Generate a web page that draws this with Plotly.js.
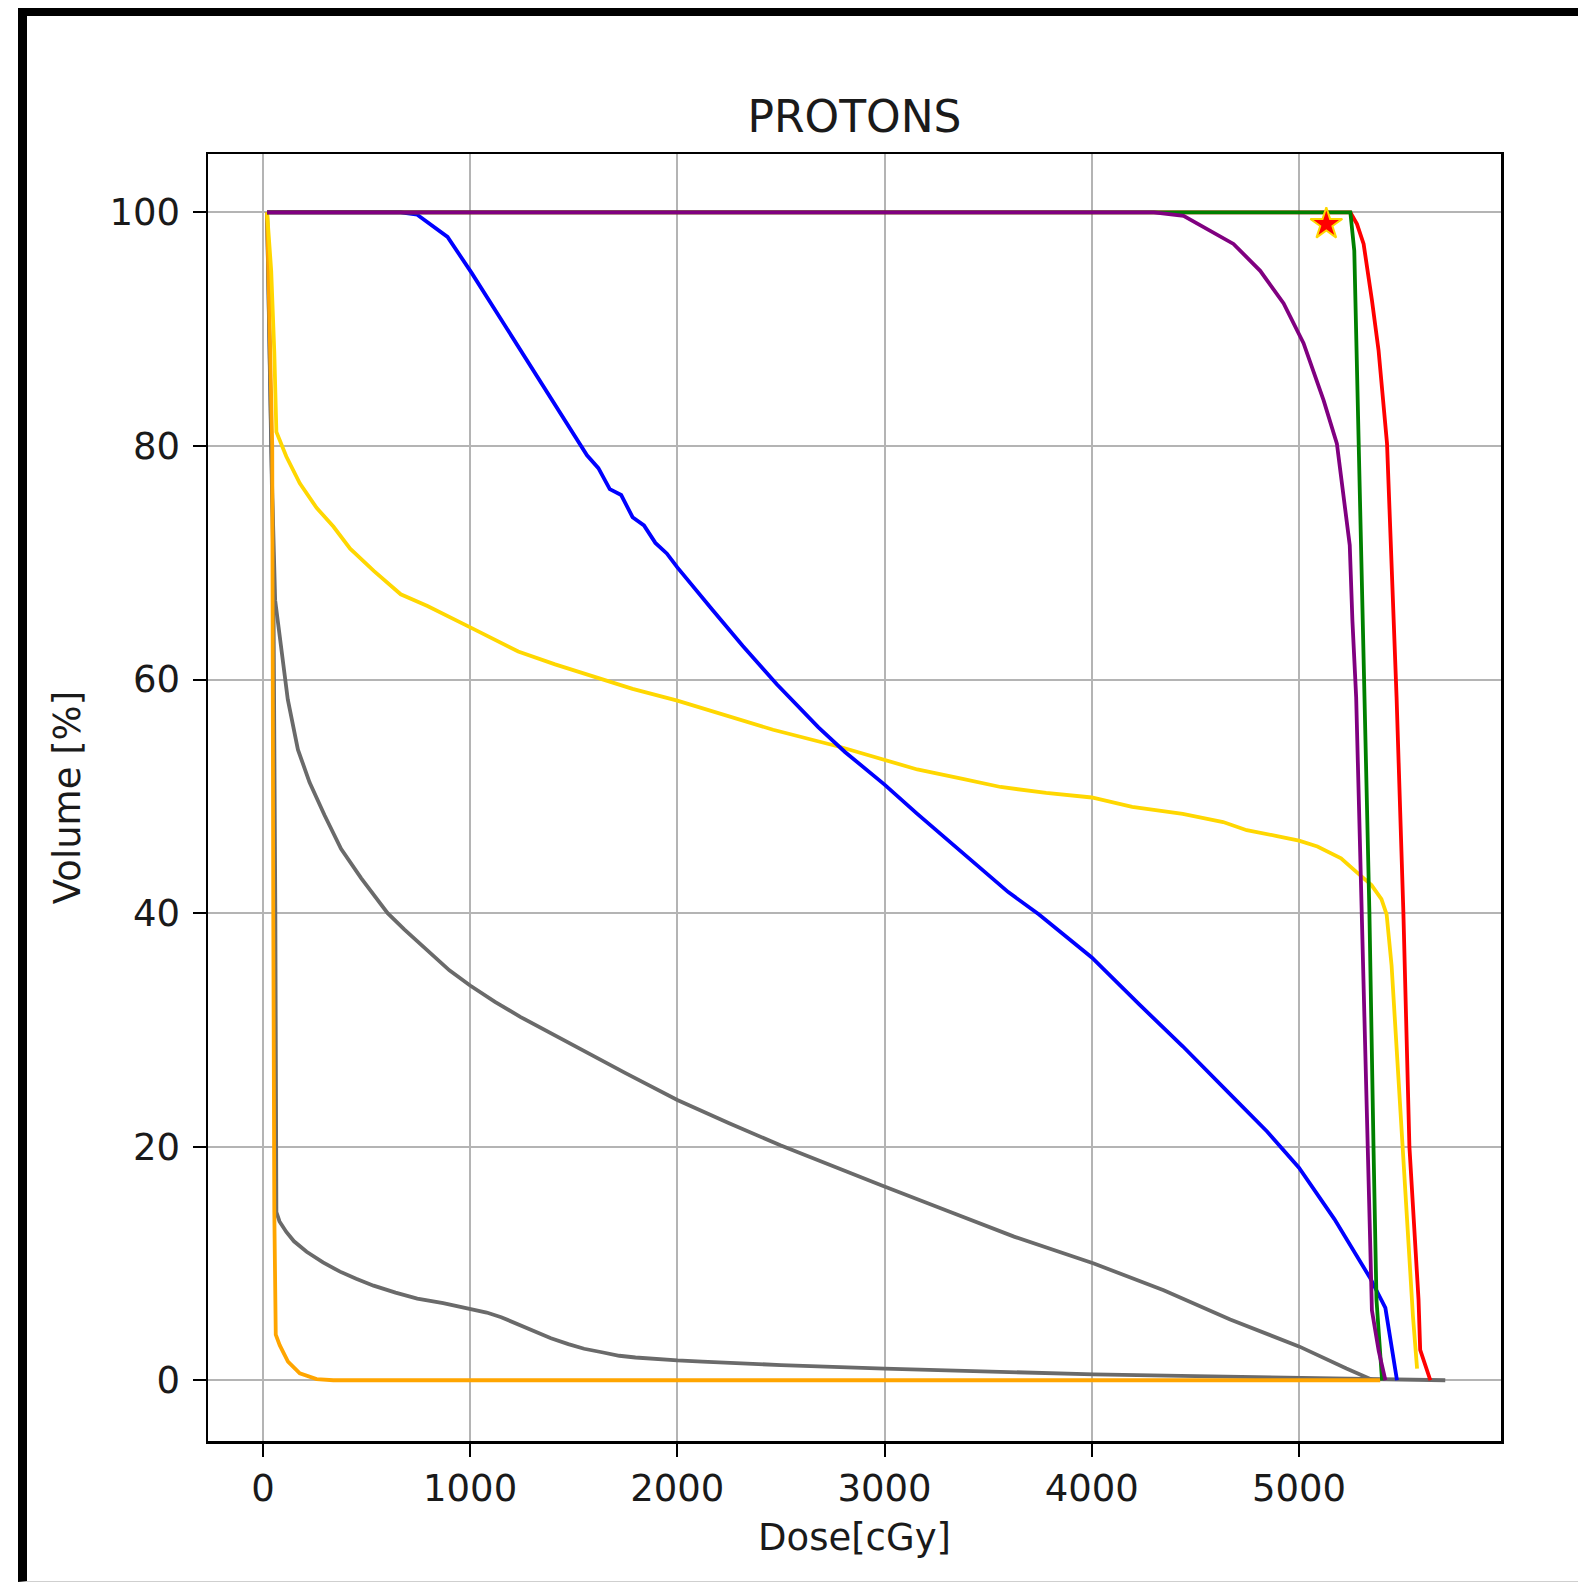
<!DOCTYPE html>
<html>
<head>
<meta charset="utf-8">
<script src="https://cdn.plot.ly/plotly-3.0.1.min.js"></script>
<style>
  html, body { margin: 0; padding: 0; background: #ffffff; overflow: hidden; }
  #wrap { position: relative; width: 1578px; height: 1585px; }
  #chart { position: absolute; left: 0; top: 0; width: 1578px; height: 1585px; }
  #frame { position: absolute; left: 18px; top: 8px; width: 1580px; height: 1574px;
           border-left: 9px solid #000; border-top: 8px solid #000; border-bottom: 1px solid #cfcfcf;
           box-sizing: border-box; pointer-events: none; }
</style>
</head>
<body>
<div id="wrap">
  <div id="chart"></div>
  <div id="frame"></div>
</div>
<script>
// ---- data (dose in cGy, volume in %) ----
const grayLowDose = [20, 50, 60, 65, 80, 113, 150, 211, 290, 372, 450, 534, 640, 745, 870, 1007, 1080, 1150, 1230, 1312, 1390, 1474, 1550, 1636, 1720, 1798, 1900, 2000, 2121, 2500, 3000, 3500, 4010, 4500, 5000, 5400, 5706];
const grayLowVol  = [100, 70, 40, 14.4, 13.6, 12.7, 11.9, 11.0, 10.1, 9.3, 8.7, 8.1, 7.5, 7.0, 6.6, 6.1, 5.8, 5.4, 4.8, 4.2, 3.6, 3.1, 2.7, 2.4, 2.1, 1.95, 1.8, 1.7, 1.6, 1.3, 1.0, 0.75, 0.5, 0.35, 0.2, 0.1, 0];

const grayHighDose = [20, 35, 45, 59, 88, 120, 169, 225, 297, 377, 474, 540, 602, 682, 811, 900, 1000, 1120, 1244, 1370, 1500, 1750, 2000, 2250, 2500, 2750, 2984, 3305, 3625, 4010, 4347, 4668, 5000, 5229, 5358];
const grayHighVol  = [100, 85, 76, 66.8, 62.6, 58.3, 54.0, 51.2, 48.4, 45.5, 43.0, 41.4, 40.0, 38.6, 36.5, 35.1, 33.8, 32.4, 31.1, 29.9, 28.7, 26.3, 24.0, 22.0, 20.1, 18.3, 16.7, 14.5, 12.3, 10.0, 7.7, 5.2, 2.9, 1.0, 0];

const orangeDose = [20, 45, 50, 52, 55, 62, 81, 121, 178, 259, 340, 5392];
const orangeVol  = [100, 80, 40, 20, 14.4, 3.9, 3.0, 1.6, 0.6, 0.1, 0, 0];

const yellowDose = [20, 40, 55, 65, 113, 178, 259, 340, 421, 535, 665, 794, 1008, 1232, 1410, 1582, 1784, 2000, 2242, 2462, 2791, 3000, 3158, 3377, 3560, 3780, 4000, 4195, 4439, 4634, 4748, 4894, 5000, 5089, 5203, 5285, 5350, 5398, 5423, 5447, 5480, 5505, 5530, 5550, 5570];
const yellowVol  = [100, 95, 88, 81.2, 79.1, 76.8, 74.7, 73.1, 71.2, 69.3, 67.3, 66.3, 64.4, 62.4, 61.3, 60.3, 59.2, 58.2, 56.9, 55.7, 54.2, 53.1, 52.3, 51.5, 50.8, 50.3, 49.9, 49.1, 48.5, 47.8, 47.1, 46.6, 46.2, 45.7, 44.7, 43.4, 42.4, 41.2, 39.9, 35.5, 25.6, 18.5, 10.5, 5.5, 1.0];

const blueDose = [20, 665, 745, 891, 1008, 1151, 1313, 1443, 1564, 1619, 1674, 1729, 1784, 1839, 1894, 1949, 2000, 2168, 2315, 2480, 2681, 2809, 3000, 3158, 3359, 3597, 3744, 4000, 4228, 4439, 4684, 4846, 5000, 5171, 5342, 5417, 5473];
const blueVol  = [100, 100, 99.8, 97.9, 94.8, 90.8, 86.3, 82.7, 79.2, 78.1, 76.3, 75.8, 73.9, 73.2, 71.7, 70.8, 69.6, 66.0, 62.9, 59.6, 55.9, 53.8, 51.0, 48.5, 45.4, 41.8, 39.9, 36.2, 32.2, 28.6, 24.2, 21.3, 18.2, 13.8, 8.8, 6.2, 0];

const redDose = [20, 5248, 5280, 5312, 5352, 5384, 5425, 5471, 5504, 5533, 5577, 5585, 5634];
const redVol  = [100, 100, 99.0, 97.3, 92.5, 88.2, 80.2, 58.5, 40, 20, 6.9, 2.6, 0];

const greenDose = [20, 5248, 5267, 5288, 5317, 5340, 5360, 5374, 5401];
const greenVol  = [100, 100, 96.7, 80.2, 58.5, 40, 19.7, 6.9, 0];

const purpleDose = [20, 4300, 4443, 4684, 4813, 4926, 5022, 5119, 5183, 5215, 5245, 5258, 5276, 5303, 5332, 5352, 5385, 5417];
const purpleVol  = [100, 100, 99.7, 97.3, 95.0, 92.2, 88.8, 83.9, 80.2, 76.0, 71.5, 65.0, 58.5, 40, 20, 6.0, 2.5, 0];

const starDose = [5132];
const starVol  = [99];

const xTicks = [0, 1000, 2000, 3000, 4000, 5000];
const yTicks = [0, 20, 40, 60, 80, 100];

// ---- chart ----
function line(x, y, color) {
  return { x: x, y: y, type: 'scatter', mode: 'lines', line: { color: color, width: 3.8 }, hoverinfo: 'skip', showlegend: false };
}

const traces = [
  line(grayLowDose, grayLowVol, '#6a6a6a'),
  line(grayHighDose, grayHighVol, '#6a6a6a'),
  line(orangeDose, orangeVol, '#FFA500'),
  line(yellowDose, yellowVol, '#FFD700'),
  line(blueDose, blueVol, '#0000FF'),
  line(redDose, redVol, '#FF0000'),
  line(greenDose, greenVol, '#008000'),
  line(purpleDose, purpleVol, '#800080'),
  { x: starDose, y: starVol, type: 'scatter', mode: 'markers',
    marker: { symbol: 'star', size: 24, color: '#FF0000', line: { color: '#FFD700', width: 2 } },
    hoverinfo: 'skip', showlegend: false }
];

const font = { family: 'DejaVu Sans', color: '#1a1a1a' };

const axisCommon = {
  showline: true, linecolor: '#000', linewidth: 2.5, mirror: true,
  ticks: 'outside', ticklen: 13, tickwidth: 2, tickcolor: '#000',
  showgrid: true, gridcolor: '#b4b4b4', gridwidth: 2,
  zeroline: false, automargin: true,
  tickfont: { family: font.family, color: font.color, size: 37 }
};

const layout = {
  width: 1578, height: 1585,
  margin: { l: 208, r: 77, t: 154, b: 144, pad: 0 },
  paper_bgcolor: '#ffffff', plot_bgcolor: '#ffffff',
  title: { text: 'PROTONS', font: { family: font.family, color: font.color, size: 44 },
           x: 0.5, xref: 'paper', xanchor: 'center', y: 1 - 117 / 1585, yref: 'container', yanchor: 'middle' },
  xaxis: Object.assign({}, axisCommon, {
    range: [-265, 5975], tickmode: 'array', tickvals: xTicks, ticktext: xTicks.map(String),
    ticklabelstandoff: 0,
    title: { text: 'Dose[cGy]', font: { family: font.family, color: font.color, size: 37 }, standoff: 15 }
  }),
  yaxis: Object.assign({}, axisCommon, {
    range: [-5.2, 105], tickmode: 'array', tickvals: yTicks, ticktext: yTicks.map(String),
    ticklabelstandoff: 5,
    title: { text: 'Volume [%]', font: { family: font.family, color: font.color, size: 37 }, standoff: 18 }
  }),
  showlegend: false
};

Plotly.newPlot('chart', traces, layout, { displayModeBar: false, staticPlot: true });
</script>
</body>
</html>
